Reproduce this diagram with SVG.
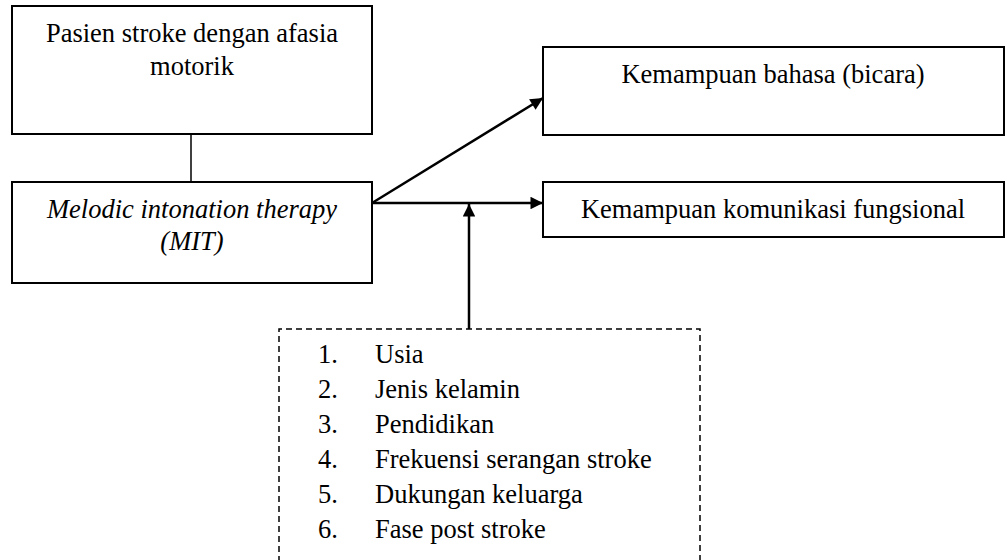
<svg xmlns="http://www.w3.org/2000/svg" width="1008" height="560" viewBox="0 0 1008 560">
<defs>
<style>
.box{fill:#fff;stroke:#000;stroke-width:2}
.t{font-family:"Liberation Serif","Times New Roman",serif;font-size:26.5px;fill:#000}
.c{text-anchor:middle}
.i{font-style:italic}
.conn{stroke:#000;stroke-width:2.5;fill:none}
</style>
<marker id="arr" viewBox="0 0 10 10" refX="10" refY="5" markerWidth="6" markerHeight="5" markerUnits="strokeWidth" orient="auto">
<path d="M0,0 L10,5 L0,10 Z" fill="#000"/>
</marker>
</defs>
<rect width="1008" height="560" fill="#fff"/>
<g id="connectors">
<line x1="191" y1="134" x2="191" y2="182" stroke="#000" stroke-width="1.5"/>
<line class="conn" x1="372" y1="203" x2="543" y2="98" marker-end="url(#arr)"/>
<line class="conn" x1="372" y1="203" x2="543" y2="203" marker-end="url(#arr)"/>
<line class="conn" x1="469" y1="329" x2="469" y2="204" marker-end="url(#arr)"/>
</g>
<g id="node-pasien">
<rect class="box" x="12" y="6" width="360" height="128"/>
<text class="t c" x="192" y="42">Pasien stroke dengan afasia</text>
<text class="t c" x="192" y="75">motorik</text>
</g>
<g id="node-mit">
<rect class="box" x="12" y="182" width="360" height="101"/>
<text class="t c i" x="192" y="218">Melodic intonation therapy</text>
<text class="t c i" x="192" y="250">(MIT)</text>
</g>
<g id="node-bahasa">
<rect class="box" x="543" y="47" width="461" height="88"/>
<text class="t c" x="773" y="83">Kemampuan bahasa (bicara)</text>
</g>
<g id="node-komunikasi">
<rect class="box" x="543" y="182" width="461" height="55"/>
<text class="t c" x="773" y="218">Kemampuan komunikasi fungsional</text>
</g>
<g id="node-faktor">
<path d="M279,562 L279,329 L700,329 L700,562" fill="none" stroke="#000" stroke-width="1.5" stroke-dasharray="6,4"/>
<text class="t" x="318" y="363">1.</text><text class="t" x="375" y="363">Usia</text>
<text class="t" x="318" y="398">2.</text><text class="t" x="375" y="398">Jenis kelamin</text>
<text class="t" x="318" y="433">3.</text><text class="t" x="375" y="433">Pendidikan</text>
<text class="t" x="318" y="468">4.</text><text class="t" x="375" y="468">Frekuensi serangan stroke</text>
<text class="t" x="318" y="503">5.</text><text class="t" x="375" y="503">Dukungan keluarga</text>
<text class="t" x="318" y="538">6.</text><text class="t" x="375" y="538">Fase post stroke</text>
</g>
</svg>
